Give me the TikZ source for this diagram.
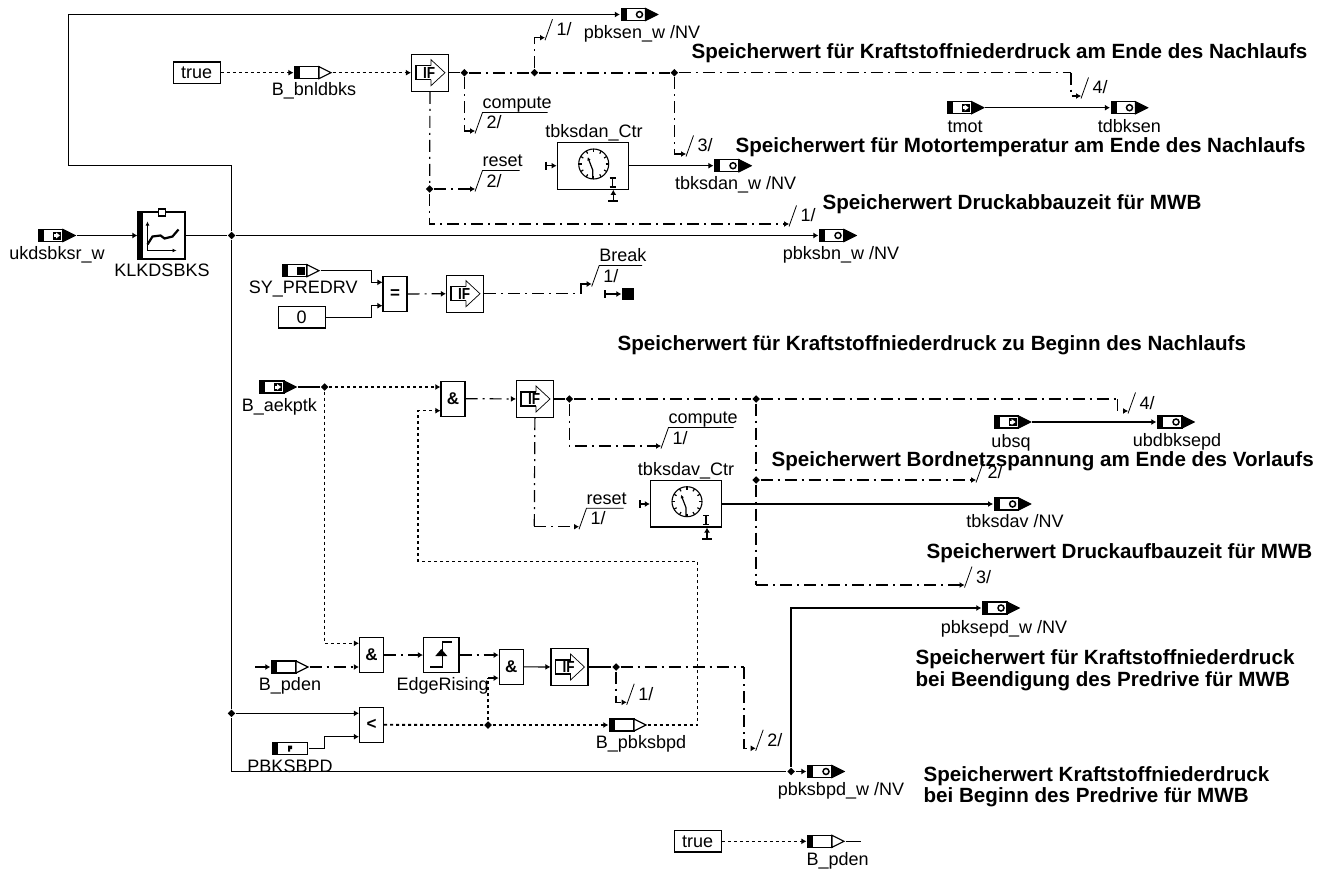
\documentclass[tikz,border=0pt]{standalone}
\usepackage{fontspec}
\setmainfont{Liberation Sans}
\usetikzlibrary{arrows.meta,shapes.geometric}
\newcommand{\portpic}[2]{%
  \begin{scope}[shift={(path picture bounding box.center)}]
    \draw[fill=white] (-18,-6) rectangle (6,6);
    \fill (-18,-6) rectangle (-13,6);
    \draw[fill=#1] (6,-6) -- (18,0) -- (6,6) -- cycle;
    #2
  \end{scope}}
\newcommand{\markin}{\fill (-4,-4) rectangle (4,4); \fill[white] (-3,-1.5) rectangle (0,1.5); \fill[white] (-1,-3) -- (3,0) -- (-1,3) -- cycle;}
\newcommand{\markout}{\draw[line width=1.5pt] (0,0) circle (3);}
\newcommand{\marksys}{\fill (-4,-4) rectangle (4,4);}
\newcommand{\seqmark}[3]{%
  \coordinate (#1) at (#3);
  \draw[line width=.8pt] (#1) ++(0,2.5) -- ++(7.5,-21);
  \path (#1) ++(11,-8.5) node[lbl,anchor=west] (#1no) {#2/};}
\newcommand{\seqname}[5]{%
  \coordinate (#1) at (#3);
  \draw[line width=.8pt] (#1) ++(0,2.5) -- ++(7.5,-21) -- ++(#5,0);
  \path (#1) ++(11,-8.5) node[lbl,anchor=west] (#1no) {#2/};
  \path (#1) ++(7,-29) node[lbl,anchor=west] (#1name) {#4};}
\newcommand{\clockpic}{%
  \begin{scope}[shift={(path picture bounding box.center)}]
    \draw[line width=1.1pt] (1,-2) circle (15);
    \foreach \a in {0,30,...,330} \draw (1,-2) ++(\a:12) -- ++(\a:3);
    \draw[-{Latex[length=3.5pt,width=3.5pt]}] (0,13) -- (0,4) -- (-5,-9);
    \draw (20,12) -- (20,21) (17,12) -- (23,12) (17,21) -- (23,21);
  \end{scope}}
\begin{document}
\begin{tikzpicture}[x=1pt,y=-1pt,line width=1.2pt,
  lbl/.style={font=\fontsize{18}{21}\selectfont, inner sep=0pt, text height=13pt, text depth=0pt},
  note/.style={font=\fontsize{20.6}{21.7}\selectfont\bfseries, inner sep=0pt, anchor=north west, align=left},
  portbase/.style={minimum width=38pt, minimum height=14pt, inner sep=0pt},
  msgin/.style={portbase, path picture={\portpic{black}{\markin}}},
  msgout/.style={portbase, path picture={\portpic{black}{\markout}}},
  flagport/.style={portbase, path picture={\portpic{white}{}}},
  sysport/.style={portbase, path picture={\portpic{white}{\marksys}}},
  parport/.style={minimum width=37pt, minimum height=14pt, inner sep=0pt, path picture={
    \begin{scope}[shift={(path picture bounding box.center)}]
      \draw (-17.5,-6) rectangle (17.5,6);
      \fill (-17.5,-6) rectangle (-12.5,6);
      \fill (-2,-3) rectangle (2,0.5) (-2,0.5) rectangle (0,3);
    \end{scope}}},
  const/.style={draw, minimum width=47pt, minimum height=21.5pt, inner sep=0pt, font=\fontsize{18}{21}\selectfont},
  opbox/.style={draw, minimum width=24pt, minimum height=35pt, inner sep=0pt, font=\fontsize{17}{17}\selectfont\bfseries},
  ifbox/.style={draw, minimum size=37pt, inner sep=0pt,
    label={[font=\fontsize{16}{16}\selectfont\bfseries, inner sep=0pt, xscale=.85, transform shape, xshift=-1pt]center:IF},
    path picture={
    \begin{scope}[shift={(path picture bounding box.center)}]
      \draw[line width=1.5pt] (1,-7) -- (-14,-7) -- (-14,7) -- (1,7);
      \draw[line width=.7pt] (1,7) -- (1,13) -- (15,0) -- (1,-13) -- (1,-7);
    \end{scope}}},
  ctrbox/.style={draw, minimum width=71pt, minimum height=46.5pt, inner sep=0pt, path picture={\clockpic}},
  edgebox/.style={draw, minimum width=35.5pt, minimum height=35pt, inner sep=0pt, path picture={
    \begin{scope}[shift={(path picture bounding box.center)}]
      \draw[line width=1.6pt] (-11,12) -- (1,12) -- (1,-13) -- (11,-13);
      \fill (-6,1) -- (0,-6) -- (6,1) -- cycle;
    \end{scope}}},
  mapbox/.style={draw, minimum width=47pt, minimum height=47pt, inner sep=0pt, path picture={
    \begin{scope}[shift={(path picture bounding box.center)}]
      \fill (-23.5,-23.5) rectangle (-18.5,23.5);
      \draw[-{Latex[length=4pt,width=4pt]}] (-14,15) -- (-14,-14);
      \draw[-{Latex[length=4pt,width=4pt]}] (-14,15) -- (15,15);
      \draw[line width=2.2pt] (-14,9) -- (-9,1) -- (-1,0) -- (3,3) -- (11,1) -- (17,-6);
    \end{scope}}},
  jct/.style={diamond, fill, inner sep=0pt, minimum size=8pt},
  tip/.style={-{Latex[length=5pt,width=6pt]}},
  ctrl/.style={dash pattern=on 12pt off 5pt on 2pt off 5pt},
  flg/.style={dash pattern=on 3pt off 3pt},
  heavy/.style={line width=1.8pt}
]
  \useasboundingbox (0,0) rectangle (1324,869);

  \node[msgin] (ukdsbksr) at (57,235.5) {};
  \node[lbl] (ukdsbksrl) at (57,253) {ukdsbksr\_w};
  \node[mapbox] (klk) at (161.5,235.5) {};
  \node[draw, fill=white, minimum size=7pt, inner sep=0pt] (klkpar) at (162,212.5) {};
  \node[lbl] (klkl) at (162,270) {KLKDSBKS};
  \node[jct] (j1) at (231.5,235.5) {};
  \node[jct] (j2) at (231.5,713.3) {};
  \node[jct] (j5) at (791,771.5) {};
  \coordinate (c1) at (68.5,165.5);

  \node[msgout] (pbksen) at (639.5,14.5) {};
  \node[lbl] (pbksenl) at (642,32) {pbksen\_w /NV};
  \node[msgout] (pbksbn) at (838,235.5) {};
  \node[lbl] (pbksbnl) at (841,253) {pbksbn\_w /NV};
  \node[msgout] (pbksepd) at (1001,608) {};
  \node[lbl] (pbksepdl) at (1004,626.7) {pbksepd\_w /NV};
  \node[msgout] (pbksbpd) at (826,771.5) {};
  \node[lbl] (pbksbpdl) at (841,789) {pbksbpd\_w /NV};

  \draw[tip] (ukdsbksr) -- (klk);
  \draw (klk.east) -- (j1);
  \draw[heavy] (klk.east) ++(11,0) -- (j1);
  \draw[tip] (j1) -- (pbksbn.west);
  \draw[tip] (j1) |- (c1) |- (pbksen.west);
  \draw (j1) -- (j2);
  \draw[tip] (j2) |- (j5) -- (pbksbpd.west);
  \draw[tip] (j5) |- (pbksepd.west);

  \node[const] (true1) at (196.7,72.7) {true};
  \node[flagport] (bnldbks) at (313,72.7) {};
  \node[lbl] (bnldbksl) at (314,89.3) {B\_bnldbks};
  \node[ifbox] (if1) at (430,72.7) {};
  \node[jct] (j11) at (464.3,72.7) {};
  \node[jct] (j12) at (534.5,72.7) {};
  \node[jct] (j13) at (674.3,72.7) {};
  \node[jct] (j14) at (429.7,189) {};
  \draw[flg,tip] (true1) -- (bnldbks);
  \draw[flg,tip] (bnldbks) -- (if1);
  \draw (if1) -- (j11);
  \draw[ctrl,heavy] (j11) -- (j12);
  \draw[ctrl,heavy] (j12) -- (j13);

  \seqmark{f11}{1}{545,37.7}
  \seqname{f12}{2}{475,131}{compute}{65}
  \seqmark{f13}{3}{686,154}
  \seqname{f14}{2}{475,189}{reset}{37}
  \seqmark{f15}{1}{789,224}
  \seqmark{f16}{4}{1081,96}
  \coordinate (b15) at (429.7,224);
  \coordinate (b16) at (1071,72.7);
  \draw[ctrl,tip] (j12) |- (f11);
  \draw[ctrl,tip] (j11) |- (f12);
  \draw[ctrl,tip] (j13) |- (f13);
  \draw[ctrl] (if1) -- (j14);
  \draw[ctrl,tip] (j14) -- (f14);
  \draw[ctrl,tip] (j14) -- (b15) -- (f15);
  \draw[ctrl] (j13) -- (b16);
  \draw[ctrl,tip] (b16) |- (f16);

  \node[ctrbox] (ctr1) at (592.7,166) {};
  \node[lbl] (ctr1l) at (594,130.7) {tbksdan\_Ctr};
  \node[msgout] (tbksdan) at (733,165.7) {};
  \node[lbl] (tbksdanl) at (735.7,183) {tbksdan\_w /NV};
  \coordinate (r1) at (546,165.7);
  \coordinate (r1b) at (613.3,201);
  \draw[tip] (ctr1.east |- tbksdan) -- (tbksdan.west);
  \draw[tip] (r1) -- (r1 -| ctr1.west);
  \draw (546,161.7) -- (546,169.7);
  \draw[tip] (r1b) -- (r1b |- ctr1.south);
  \draw (608.3,201) -- (618.3,201);

  \node[msgin] (tmot) at (965.7,107.7) {};
  \node[lbl] (tmotl) at (965,125.7) {tmot};
  \node[msgout] (tdbksen) at (1129.5,107.7) {};
  \node[lbl] (tdbksenl) at (1129.3,125.7) {tdbksen};
  \draw[tip] (tmot) -- (tdbksen);

  \node[sysport] (sy) at (301,270.7) {};
  \node[lbl] (syl) at (303.3,287.3) {SY\_PREDRV};
  \node[const] (zero) at (301.7,317.3) {0};
  \node[opbox] (eq) at (395,294) {=};
  \node[ifbox] (if2) at (465,293.7) {};
  \coordinate (b21) at (371.7,270.7);
  \coordinate (b22) at (371.7,317.3);
  \coordinate (b23) at (581,293.7);
  \coordinate (stopin) at (605,294);
  \node[minimum size=12pt, inner sep=0pt, fill] (stopbox) at (628,294) {};
  \seqname{f21}{1}{591.7,284}{Break}{43}
  \draw[tip] (sy) -- (b21) -- (371.7,282.3) -- (eq.west |- 0,282.3);
  \draw[tip] (zero) -- (b22) -- (371.7,305.7) -- (eq.west |- 0,305.7);
  \draw[ctrl,tip] (eq) -- (if2);
  \draw[ctrl] (if2) -- (b23);
  \draw[tip] (b23) |- (f21);
  \draw[tip] (stopin) -- (stopbox);
  \draw (605,290) -- (605,298);

  \node[msgin] (aekptk) at (278,387) {};
  \node[lbl] (aekptkl) at (279.3,405) {B\_aekptk};
  \node[jct] (j31) at (324.7,387) {};
  \node[opbox] (and1) at (453,398.7) {\&};
  \node[ifbox] (if3) at (535,399) {};
  \node[jct] (j32) at (569.3,399) {};
  \node[jct] (j33) at (756,399) {};
  \node[jct] (j34) at (756,480) {};
  \coordinate (b31) at (418,410.7);
  \coordinate (b32) at (418,561.7);
  \coordinate (b33) at (697.7,561.7);
  \coordinate (b34) at (697.7,725);
  \coordinate (b35) at (756,585);
  \coordinate (b36) at (1117.6,399);
  \coordinate (b37) at (534.3,526.7);
  \draw (aekptk) -- (j31);
  \draw[flg,tip] (j31) -- (j31 -| and1.west);
  \draw[flg,tip] (b32) -- (b31) -- (and1.west |- b31);
  \draw[ctrl,tip] (and1) -- (if3);
  \draw (if3) -- (j32);
  \draw[ctrl,heavy] (j32) -- (j33);

  \seqname{f31}{1}{661,446}{compute}{65}
  \seqname{f32}{1}{579,526.7}{reset}{37}
  \seqmark{f33}{2}{976,480}
  \seqmark{f34}{3}{964.5,585}
  \seqmark{f35}{4}{1128,411}
  \draw[ctrl,tip] (j32) |- (f31);
  \draw[ctrl] (if3) -- (b37);
  \draw[ctrl,tip] (b37) -- (f32);
  \draw[ctrl,heavy] (j33) -- (j34);
  \draw[ctrl,tip] (j34) -- (f33);
  \draw[ctrl] (j34) -- (b35);
  \draw[ctrl,tip] (b35) -- (f34);
  \draw[ctrl] (j33) -- (b36);
  \draw[ctrl,tip] (b36) |- (f35);

  \node[ctrbox] (ctr2) at (686,503.7) {};
  \node[lbl] (ctr2l) at (686,469.3) {tbksdav\_Ctr};
  \node[msgout] (tbksdav) at (1012.6,504) {};
  \node[lbl] (tbksdavl) at (1015,520.7) {tbksdav /NV};
  \coordinate (r2) at (640,504);
  \coordinate (r2b) at (707,539);
  \draw[tip] (ctr2.east |- tbksdav) -- (tbksdav.west);
  \draw[tip] (r2) -- (r2 -| ctr2.west);
  \draw (640,500) -- (640,508);
  \draw[tip] (r2b) -- (r2b |- ctr2.south);
  \draw (702,539) -- (712,539);

  \node[msgin] (ubsq) at (1012.5,422) {};
  \node[lbl] (ubsql) at (1011,440.7) {ubsq};
  \node[msgout] (ubdbksepd) at (1176,422) {};
  \node[lbl] (ubdbksepdl) at (1177,440) {ubdbksepd};
  \draw[tip] (ubsq) -- (ubdbksepd);

  \node[opbox] (and2) at (371.5,655) {\&};
  \coordinate (pden0) at (255,667);
  \node[flagport] (pden1) at (290,667) {};
  \node[lbl] (pden1l) at (290,684) {B\_pden};
  \node[edgebox] (edge) at (441.3,655) {};
  \node[lbl] (edgel) at (442.7,684) {EdgeRising};
  \node[opbox] (and3) at (511.3,666.8) {\&};
  \node[ifbox] (if4) at (569.5,667) {};
  \node[jct] (j41) at (616,667) {};
  \node[opbox] (lt) at (371.5,724.8) {<};
  \node[parport] (pbksbpar) at (290,748.5) {};
  \node[lbl] (pbksbparl) at (290,765.7) {PBKSBPD};
  \node[jct] (j42) at (488,725) {};
  \node[flagport] (pbksbpdf) at (628,725) {};
  \node[lbl] (pbksbpdfl) at (641,741.7) {B\_pbksbpd};
  \coordinate (b41) at (324.7,643.3);
  \coordinate (b42) at (324.7,748.5);
  \coordinate (b43) at (488,678);
  \coordinate (b44) at (744,667);
  \seqmark{f41}{1}{626.7,702.3}
  \seqmark{f42}{2}{755.7,748.3}
  \draw[tip] (pden0) -- (pden1);
  \draw[flg,tip] (j31) -- (b41) -- (and2.west |- b41);
  \draw[ctrl,tip] (pden1) -- (and2.west |- pden1);
  \draw[ctrl,tip] (and2) -- (edge);
  \draw[ctrl,tip] (edge.east) -- (edge.east -| and3.west);
  \draw[tip] (and3) -- (if4);
  \draw (if4) -- (j41);
  \draw[ctrl] (j41) -- (b44);
  \draw[ctrl,tip] (b44) |- (f42);
  \draw[ctrl,tip] (j41) |- (f41);
  \draw[tip] (j2) -- (j2 -| lt.west);
  \draw (pbksbpar) -- (b42);
  \draw[tip] (b42) |- (lt.west |- 0,736.7);
  \draw[flg,heavy] (lt) -- (j42);
  \draw[flg,tip] (j42) -- (pbksbpdf);
  \draw[flg] (j42) -- (b43);
  \draw[tip] (b43) -- (and3.west |- b43);
  \draw[flg] (pbksbpdf) -- (b34) -- (b33) -- (b32);

  \node[const] (true2) at (697.7,841.3) {true};
  \node[flagport] (pden2) at (826,841.3) {};
  \node[lbl] (pden2l) at (837.7,859.3) {B\_pden};
  \coordinate (pden3) at (861,841.3);
  \draw[flg,tip] (true2) -- (pden2);
  \draw (pden2) -- (pden3);

  \node[note] (n1) at (691,43.2) {Speicherwert für Kraftstoffniederdruck am Ende des Nachlaufs};
  \node[note] (n2) at (735,136.5) {Speicherwert für Motortemperatur am Ende des Nachlaufs};
  \node[note] (n3) at (822,193.5) {Speicherwert Druckabbauzeit für MWB};
  \node[note] (n4) at (617,334.5) {Speicherwert für Kraftstoffniederdruck zu Beginn des Nachlaufs};
  \node[note] (n5) at (771,450.5) {Speicherwert Bordnetzspannung am Ende des Vorlaufs};
  \node[note] (n6) at (926,543) {Speicherwert Druckaufbauzeit für MWB};
  \node[note] (n7) at (915,649) {Speicherwert für Kraftstoffniederdruck\\bei Beendigung des Predrive für MWB};
  \node[note] (n8) at (923,765.5) {Speicherwert Kraftstoffniederdruck\\bei Beginn des Predrive für MWB};
\end{tikzpicture}
\end{document}
